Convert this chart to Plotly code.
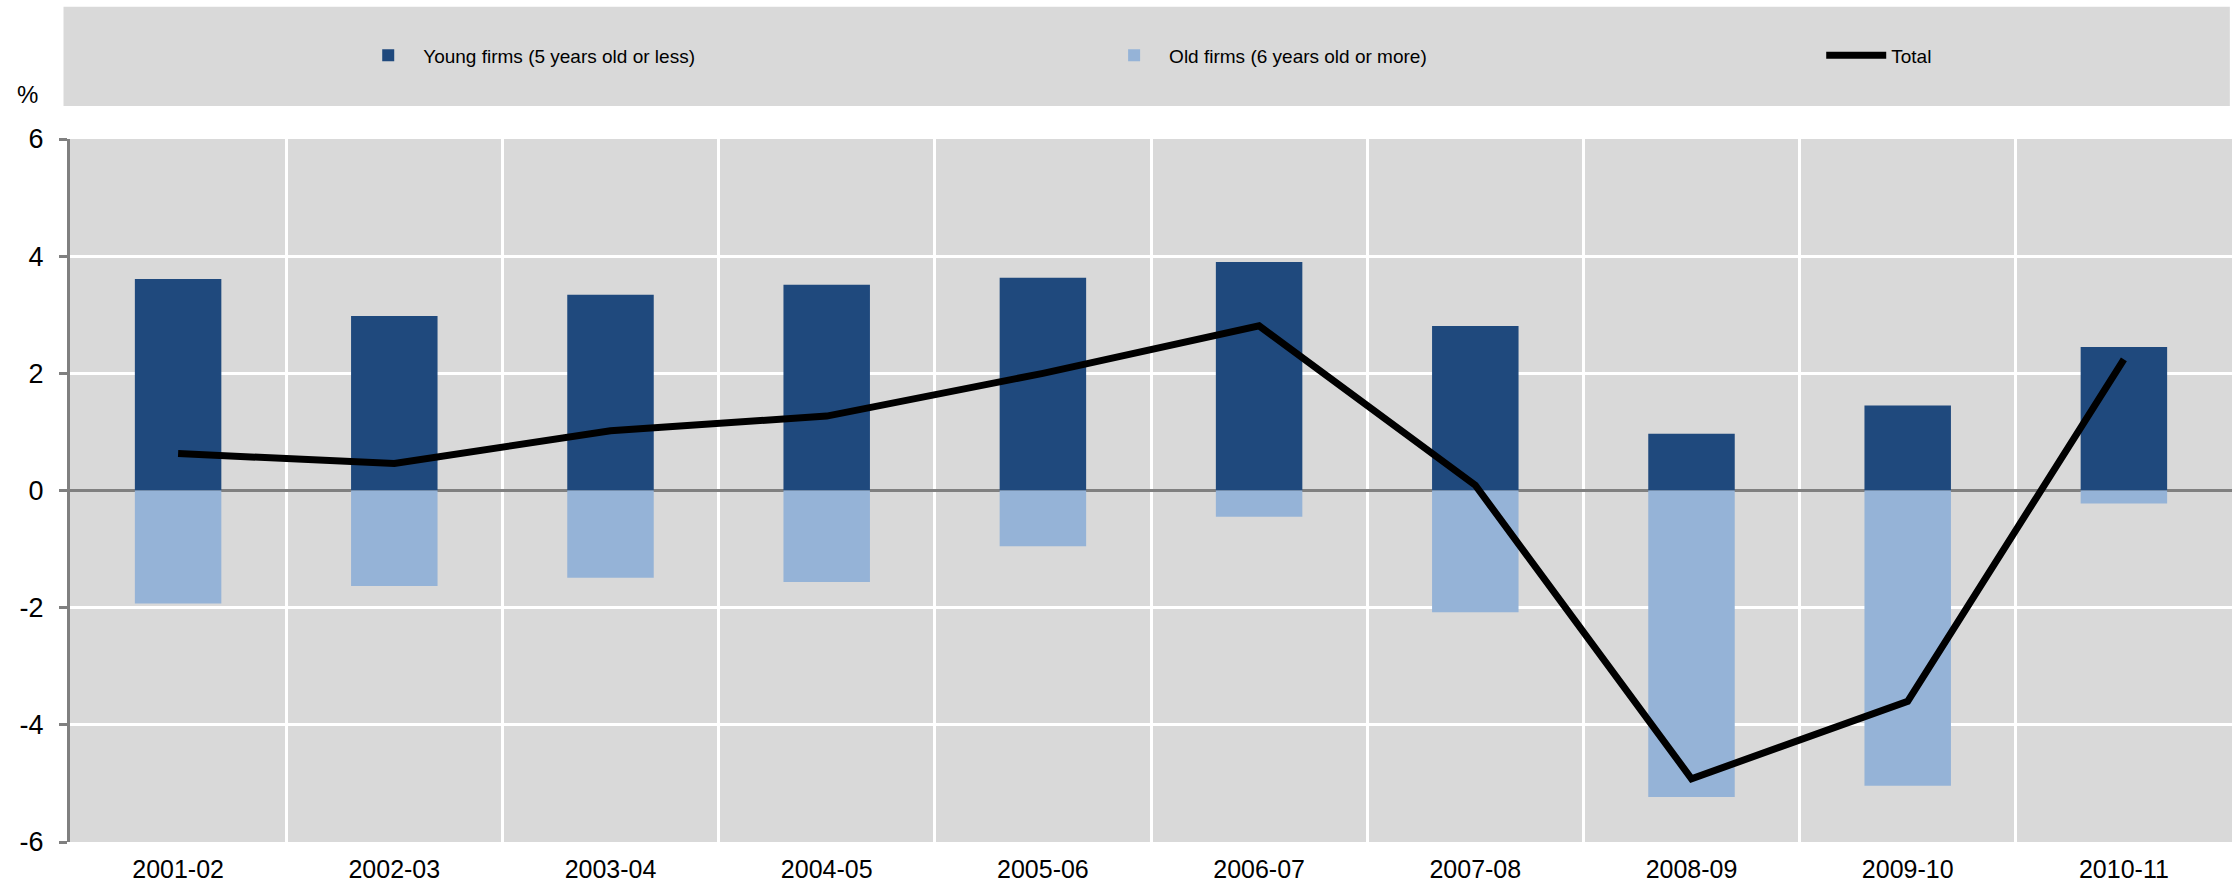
import plotly.graph_objects as go

years = ["2001-02", "2002-03", "2003-04", "2004-05", "2005-06",
         "2006-07", "2007-08", "2008-09", "2009-10", "2010-11"]
young = [3.61, 2.98, 3.34, 3.51, 3.63, 3.90, 2.81, 0.97, 1.45, 2.45]
old = [-1.93, -1.63, -1.49, -1.56, -0.95, -0.45, -2.08, -5.23, -5.04, -0.22]
total = [0.63, 0.46, 1.02, 1.27, 2.00, 2.81, 0.09, -4.92, -3.60, 2.24]
y_ticks = [-6, -4, -2, 0, 2, 4, 6]
y_labels = ["-6", "-4", "-2", "0", "2", "4", "6"]

FONT = "Liberation Sans, Arial, sans-serif"
GREY_BG = "#d9d9d9"

fig = go.Figure()
fig.add_bar(x=years, y=young, name="Young firms (5 years old or less)",
            marker=dict(color="#1f497d", line_width=0), width=0.4, legend="legend")
fig.add_bar(x=years, y=old, name="Old firms (6 years old or more)",
            marker=dict(color="#95b3d7", line_width=0), width=0.4, legend="legend2")
fig.add_scatter(x=years, y=total, name="Total", mode="lines",
                line=dict(color="black", width=7), legend="legend3")

# grey band behind the legend
fig.add_shape(type="rect", xref="paper", yref="paper",
              x0=-0.003, x1=0.999, y0=1.047, y1=1.188,
              fillcolor=GREY_BG, line_width=0, layer="below")

fig.add_annotation(text="%", xref="paper", yref="paper", x=-0.0195, y=1.063,
                   xanchor="center", yanchor="middle", showarrow=False,
                   font=dict(size=24, color="black", family=FONT))

# one legend per entry so each sits where the reference puts it
leg = dict(y=1.119, xanchor="left", yanchor="middle", orientation="h",
           bgcolor="rgba(0,0,0,0)", font=dict(size=19, family=FONT), itemwidth=60)

fig.update_layout(
    width=2239, height=896,
    margin=dict(l=70, r=7, t=139, b=54),
    barmode="relative",
    paper_bgcolor="white",
    plot_bgcolor=GREY_BG,
    font=dict(family=FONT, size=25, color="black"),
    showlegend=True,
    legend=dict(leg, x=0.131),
    legend2=dict(leg, x=0.476),
    legend3=dict(leg, x=0.810),
    xaxis=dict(type="category", tickson="boundaries", showgrid=True,
               gridcolor="white", gridwidth=3, ticks="", showline=False,
               zeroline=False, ticklabelstandoff=10),
    yaxis=dict(range=[-6, 6], tickvals=y_ticks, ticktext=y_labels,
               tickfont=dict(size=27), showgrid=True, gridcolor="white",
               gridwidth=3, zeroline=True, zerolinecolor="#808080", zerolinewidth=3,
               showline=True, linecolor="#808080", linewidth=3,
               ticks="outside", ticklen=8, tickcolor="#808080", tickwidth=3,
               ticklabelstandoff=10),
)

# drop the page margin so the figure fills the window exactly
fig.write_html("out.html", config={"displayModeBar": False},
               post_script="document.body.style.margin='0';")
